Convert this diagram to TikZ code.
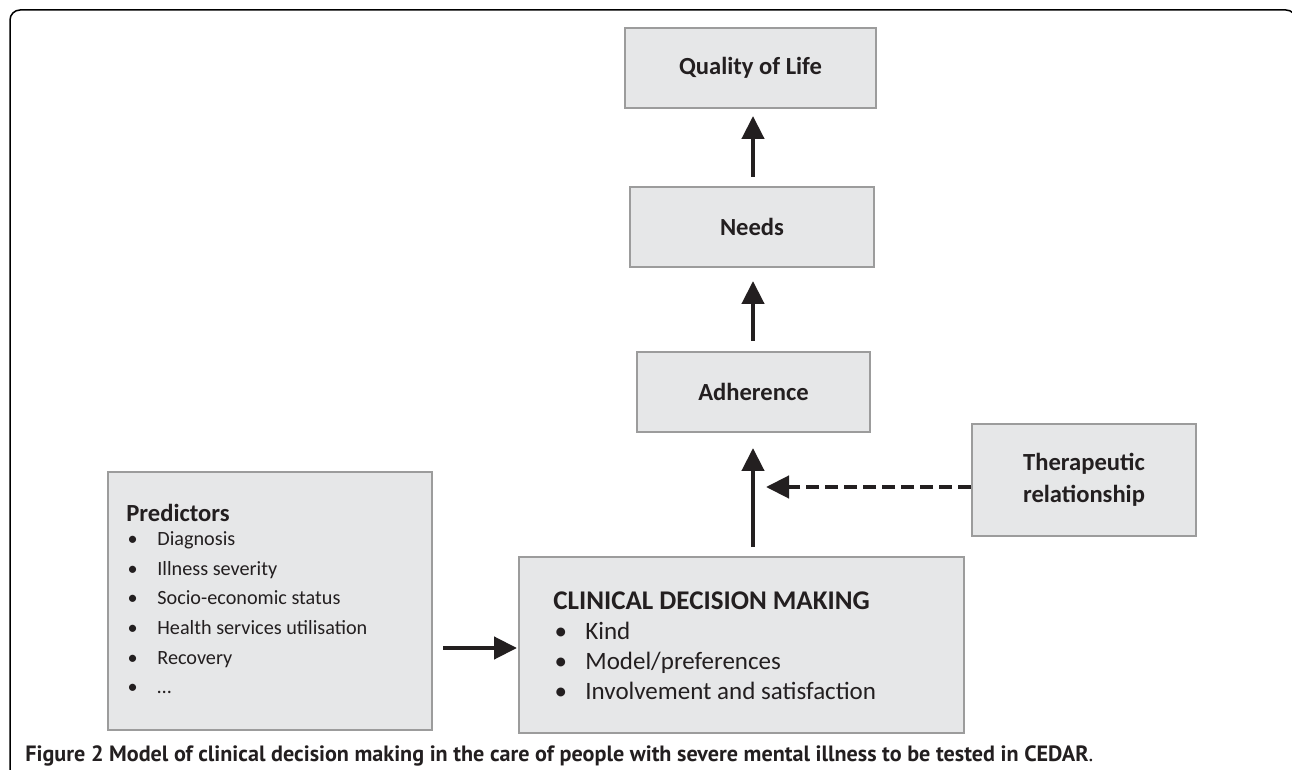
\documentclass[tikz,border=0pt]{standalone}
\usepackage{fontspec}
\setmainfont{Carlito}
\newfontfamily\capfont{PT Sans}
\usetikzlibrary{arrows.meta,calc}
\definecolor{boxfill}{HTML}{E6E7E8}
\definecolor{boxline}{HTML}{9C9C9C}
\definecolor{ink}{HTML}{231F20}
\newcommand\predbul{\makebox[15.5pt][l]{\hspace*{0.6pt}\textbullet}}
\newcommand\cdmbul{\makebox[16pt][l]{\hspace*{0.6pt}\textbullet}}
\begin{document}
\begin{tikzpicture}[x=0.5pt,y=-0.5pt,
  box/.style={draw=boxline, fill=boxfill, line width=1pt, inner sep=0pt, text=ink},
  ttl/.style={font=\bfseries\fontsize{12.3}{16}\selectfont},
  arr/.style={line width=2.2pt, draw=ink, -{Triangle[length=11.5pt,width=11pt]}},
  dasharr/.style={arr, dash pattern=on 6.5pt off 3pt},
  txt/.style={anchor=north west, inner sep=0pt, align=left, text=ink}]
\clip (0,0) rectangle (1292,770);
% outer frame
\draw[line width=0.75pt, rounded corners=5pt] (10,790) -- (10,10) -- (1296,10) -- (1296,790);
% boxes
\node[box, ttl, minimum width=125.5pt, minimum height=40pt] (qol) at (750.5,68) {Quality of Life};
\node[box, ttl, minimum width=122pt, minimum height=40pt] (needs) at (752,227) {Needs};
\node[box, ttl, minimum width=116.5pt, minimum height=40pt] (adh) at (753.5,392) {Adherence};
\node[box, ttl, align=center, minimum width=112pt, minimum height=56pt] (ther) at (1084,480) {Therapeutic\\relationship};
\node[box, minimum width=222.5pt, minimum height=88pt] (cdm) at (741.5,645) {};
\node[box, minimum width=162pt, minimum height=129pt] (pred) at (270,601) {};
% box texts
\node[txt, font=\fontsize{10.1}{14.8}\selectfont] (predtxt) at (126,504)
  {{\bfseries\fontsize{12.3}{14.8}\selectfont Predictors}\\[-2.8pt]
   \predbul Diagnosis\\
   \predbul Illness severity\\
   \predbul Socio-economic status\\
   \predbul Health services utilisation\\
   \predbul Recovery\\
   \predbul \ldots};
\node[txt, font=\fontsize{12.5}{15}\selectfont] (cdmtxt) at (553,591)
  {{\bfseries\fontsize{13.5}{15}\selectfont CLINICAL DECISION MAKING}\\
   \cdmbul Kind\\
   \cdmbul Model/preferences\\
   \cdmbul Involvement and satisfaction};
% connectors
\coordinate (ax) at (753,0);
\coordinate (dend) at (766,487);
\coordinate (py) at (0,648);
\draw[arr, shorten <=4.5pt, shorten >=3.5pt] (needs.north -| ax) -- (qol.south -| ax);
\draw[arr, shorten <=5pt, shorten >=6.5pt] (adh.north -| ax) -- (needs.south -| ax);
\draw[arr, shorten <=4.5pt, shorten >=7.5pt] (cdm.north -| ax) -- (adh.south -| ax);
\draw[dasharr] (ther.west |- dend) -- (dend);
\draw[arr, shorten <=5pt, shorten >=0.5pt] (pred.east |- py) -- (cdm.west |- py);
% caption
\node[anchor=base west, inner sep=0pt, text=ink] (cap) at (25,761)
  {\resizebox{534pt}{!}{\capfont\bfseries Figure 2 Model of clinical decision making in the care of people with severe mental illness to be tested in CEDAR\mdseries.}};
\end{tikzpicture}
\end{document}
